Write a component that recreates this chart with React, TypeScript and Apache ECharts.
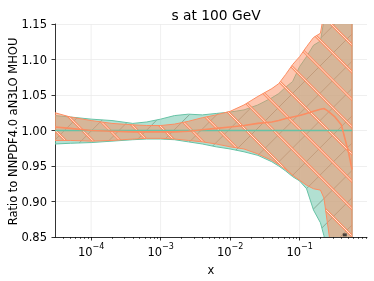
import React, { useEffect, useRef } from "react";
import * as echarts from "echarts";

// log10(x) sample positions
const LOG_X = [-4.52, -4.3, -4.0, -3.7, -3.4, -3.2, -3.0, -2.8, -2.6, -2.4, -2.2, -2.0, -1.8, -1.6, -1.4, -1.3, -1.2, -1.1, -1.0, -0.9, -0.8, -0.7, -0.65, -0.6, -0.5, -0.4, -0.3, -0.245];

// reference (teal) band
const TEAL_UPPER = [1.021, 1.019, 1.016, 1.014, 1.010, 1.012, 1.016, 1.021, 1.023, 1.022, 1.024, 1.026, 1.029, 1.036, 1.046, 1.052, 1.061, 1.069, 1.090, 1.104, 1.120, 1.126, 1.155, 1.20, 1.26, 1.30, 1.33, 1.35];
const TEAL_LOWER = [0.981, 0.982, 0.983, 0.985, 0.987, 0.988, 0.988, 0.987, 0.984, 0.981, 0.977, 0.974, 0.970, 0.965, 0.956, 0.950, 0.943, 0.935, 0.929, 0.918, 0.888, 0.870, 0.852, 0.82, 0.75, 0.70, 0.67, 0.65];
const TEAL_CENTRAL = [1, 1, 1, 1, 1, 1, 1, 1, 1, 1, 1, 1, 1, 1, 1, 1, 1, 1, 1, 1, 1, 1, 1, 1, 1, 1, 1, 1];

// orange band
const ORANGE_UPPER = [1.025, 1.019, 1.014, 1.010, 1.008, 1.007, 1.007, 1.009, 1.013, 1.018, 1.022, 1.027, 1.036, 1.048, 1.059, 1.066, 1.079, 1.093, 1.104, 1.118, 1.131, 1.137, 1.165, 1.21, 1.27, 1.31, 1.34, 1.36];
const ORANGE_LOWER = [0.986, 0.986, 0.985, 0.986, 0.988, 0.989, 0.989, 0.988, 0.986, 0.984, 0.981, 0.977, 0.974, 0.967, 0.958, 0.952, 0.945, 0.937, 0.930, 0.923, 0.918, 0.916, 0.905, 0.87, 0.80, 0.74, 0.70, 0.68];
const ORANGE_CENTRAL = [1.005, 1.003, 1.000, 0.999, 0.998, 0.998, 0.998, 0.998, 0.999, 1.001, 1.003, 1.005, 1.007, 1.010, 1.012, 1.014, 1.017, 1.019, 1.021, 1.024, 1.027, 1.030, 1.031, 1.028, 1.020, 1.008, 0.971, 0.945];

const MARKER = [[-0.35, 0.853]];

const X_MAJOR = [-4, -3, -2, -1];
const X_MINOR_DECADES = [-5, -4, -3, -2, -1];
const X_MINOR_MULT = [2, 3, 4, 5, 6, 7, 8, 9];
const X_MIN = -4.52;
const X_MAX = -0.03;
const Y_MIN = 0.85;
const Y_MAX = 1.15;
const Y_STEP = 0.05;

const TEAL = "#66c2a5";
const ORANGE = "#fc8d62";
const FONT = "DejaVu Sans";

type Stroke = { color: string; width: number };

function hatchLines(cs: any, dir: "back" | "fwd", spacing: number, phase: number, strokes: Stroke[]) {
  const y0 = cs.y;
  const y1 = cs.y + cs.height;
  const H = cs.height;
  const out: any[] = [];
  if (dir === "back") {
    // lines x - y = c
    const cMin = cs.x - y1 - spacing;
    const cMax = cs.x + cs.width - y0 + spacing;
    let c = phase + Math.floor((cMin - phase) / spacing) * spacing;
    for (; c <= cMax; c += spacing) {
      for (const s of strokes) {
        out.push({
          type: "line",
          shape: { x1: c + y0, y1: y0, x2: c + y1, y2: y1 },
          style: { stroke: s.color, lineWidth: s.width },
        });
      }
    }
  } else {
    // lines x + y = c
    const cMin = cs.x + y0 - spacing;
    const cMax = cs.x + cs.width + y1 + spacing;
    let c = phase + Math.floor((cMin - phase) / spacing) * spacing;
    for (; c <= cMax; c += spacing) {
      for (const s of strokes) {
        out.push({
          type: "line",
          shape: { x1: c - y0, y1: y0, x2: c - y1, y2: y1 },
          style: { stroke: s.color, lineWidth: s.width },
        });
      }
    }
  }
  void H;
  return out;
}

export default function App() {
  const ref = useRef<HTMLDivElement>(null);
  useEffect(() => {
    if (!ref.current) return;
    const chart = echarts.init(ref.current, undefined, { renderer: "svg" });
    const pair = (ys: number[]) => LOG_X.map((x, i) => [x, ys[i]]);
    const rows = (up: number[], lo: number[]) => LOG_X.map((x, i) => [x, lo[i], up[i]]);
    const minor: number[] = [];
    X_MINOR_DECADES.forEach((d) =>
      X_MINOR_MULT.forEach((m) => {
        const v = d + Math.log10(m);
        if (v > X_MIN && v < X_MAX) minor.push(v);
      })
    );
    const edge = (color: string, w: number) => ({
      type: "line",
      symbol: "none",
      silent: true,
      lineStyle: { color, width: w },
    });
    const band = (
      z: number,
      up: number[],
      lo: number[],
      fill: string,
      stroke: string,
      dir: "back" | "fwd",
      phase: number,
      strokes: Stroke[]
    ) => ({
      type: "custom",
      z,
      silent: true,
      data: rows(up, lo),
      encode: { x: 0, y: [1, 2] },
      renderItem: (params: any, api: any) => {
        if (params.dataIndexInside !== 0) return null;
        const n = params.dataInsideLength;
        const top: number[][] = [];
        const bot: number[][] = [];
        for (let i = 0; i < n; i++) {
          const x = api.value(0, i);
          top.push(api.coord([x, api.value(2, i)]));
          bot.push(api.coord([x, api.value(1, i)]));
        }
        const pts = top.concat(bot.reverse());
        const cs = params.coordSys;
        return {
          type: "group",
          clipPath: { type: "rect", shape: { x: cs.x, y: cs.y, width: cs.width, height: cs.height } },
          children: [
            { type: "polygon", shape: { points: pts }, style: { fill, stroke: "none" } },
            {
              type: "group",
              clipPath: { type: "polygon", shape: { points: pts } },
              children: hatchLines(cs, dir, 27.3, phase, strokes),
            },
            { type: "polygon", shape: { points: pts }, style: { fill: "none", stroke, lineWidth: 1 } },
          ],
        };
      },
    });

    chart.setOption({
      animation: false,
      title: {
        text: "s at 100 GeV",
        left: 211,
        top: 3,
        textAlign: "center",
        textStyle: { fontFamily: FONT, fontSize: 13.8, fontWeight: "normal", color: "#000" },
      },
      graphic: [
        {
          type: "text",
          x: 12.5,
          y: 131.5,
          rotation: Math.PI / 2,
          style: {
            text: "Ratio to NNPDF4.0 aN3LO MHOU",
            fontFamily: FONT,
            fontSize: 11.5,
            fill: "#000",
            align: "center",
            verticalAlign: "middle",
          },
        },
      ],
      grid: { left: 55, right: 7, top: 24, bottom: 42 },
      xAxis: [
        {
          type: "value",
          min: X_MIN,
          max: X_MAX,
          name: "x",
          nameLocation: "middle",
          nameGap: 27,
          nameTextStyle: { fontFamily: FONT, fontSize: 11.5, color: "#000" },
          axisLine: { lineStyle: { color: "#000", width: 0.8 } },
          axisTick: { customValues: X_MAJOR, length: 3.5, lineStyle: { color: "#000", width: 0.8 } },
          axisLabel: {
            customValues: X_MAJOR,
            margin: 5,
            formatter: (v: number) => `{b|10}{s|\u2212${Math.round(-v)}}`,
            rich: {
              b: { fontFamily: FONT, fontSize: 11.5, color: "#000", lineHeight: 16, verticalAlign: "bottom" },
              s: { fontFamily: FONT, fontSize: 8, color: "#000", lineHeight: 8, verticalAlign: "top" },
            },
          },
          splitLine: { show: false },
        },
        {
          type: "value",
          min: X_MIN,
          max: X_MAX,
          position: "bottom",
          axisLine: { show: false },
          axisTick: { customValues: minor, length: 2, lineStyle: { color: "#000", width: 0.6 } },
          axisLabel: { show: false },
          splitLine: { show: false },
        },
      ],
      yAxis: {
        type: "value",
        min: Y_MIN,
        max: Y_MAX,
        interval: Y_STEP,
        axisLine: { show: true, lineStyle: { color: "#000", width: 0.8 } },
        axisTick: { show: true, length: 3.5, lineStyle: { color: "#000", width: 0.8 } },
        axisLabel: {
          margin: 8,
          fontFamily: FONT,
          fontSize: 11.5,
          color: "#000",
          formatter: (v: number) => v.toFixed(2),
        },
        splitLine: { show: true, lineStyle: { color: "#ebebeb", width: 0.8 } },
      },
      series: [
        {
          type: "custom",
          z: 1,
          silent: true,
          data: X_MAJOR.map((v) => [v, Y_MIN]),
          encode: { x: 0, y: 1 },
          renderItem: (params: any, api: any) => {
            const v = api.value(0);
            const a = api.coord([v, Y_MAX]);
            const b = api.coord([v, Y_MIN]);
            return {
              type: "line",
              shape: { x1: a[0], y1: a[1], x2: b[0], y2: b[1] },
              style: { stroke: "#ebebeb", lineWidth: 0.8 },
            };
          },
        },
        band(2, TEAL_UPPER, TEAL_LOWER, "rgba(102,194,165,0.5)", TEAL, "fwd", 3.8, [
          { color: "rgba(95,115,85,0.55)", width: 0.9 },
        ]),
        band(4, ORANGE_UPPER, ORANGE_LOWER, "rgba(252,141,98,0.5)", ORANGE, "back", 6.8, [
          { color: "rgb(252,141,98)", width: 2.6 },
          { color: "rgb(255,232,220)", width: 1 },
        ]),
        { ...edge(TEAL, 1.6), z: 6, data: pair(TEAL_CENTRAL) },
        { ...edge(ORANGE, 1.6), z: 7, data: pair(ORANGE_CENTRAL) },
        {
          type: "scatter",
          z: 8,
          silent: true,
          symbol: "rect",
          symbolSize: [4, 3],
          itemStyle: { color: "#222" },
          data: MARKER,
        },
      ],
    });
    return () => chart.dispose();
  }, []);
  return <div ref={ref} style={{ position: "fixed", left: 0, top: 0, width: 374, height: 281 }} />;
}
